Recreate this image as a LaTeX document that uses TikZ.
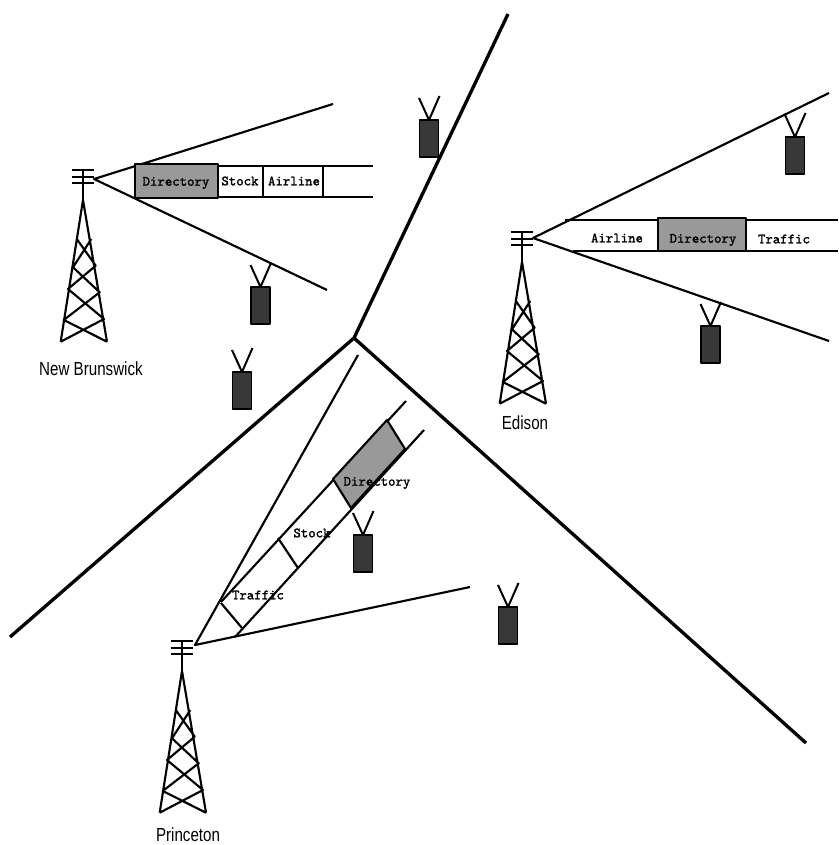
\documentclass[tikz,border=0pt]{standalone}
\usepackage{fontspec}
\newfontfamily\labelsans{Liberation Sans}
\newfontfamily\chanfont[FakeBold=1.6]{Latin Modern Mono}
\begin{document}
\begin{tikzpicture}[x=.75pt,y=-.75pt,line join=round,
  divider/.style={line width=2.5pt,black},
  beam/.style={line width=1.6pt,black},
  band/.style={line width=1.6pt,black},
  cell/.style={fill=black!40,draw=black,line width=1.6pt},
  handset/.style={fill=black!78,draw=black,line width=1.2pt},
  antenna/.style={line width=1.5pt,black},
  chan/.style={font=\chanfont\fontsize{10.6}{12}\selectfont,inner sep=0pt,text=black},
  place/.style={font=\labelsans\fontsize{14.2}{16}\selectfont,xscale=.8,inner sep=0pt,text=black},
  tower/.pic={
    \draw[line width=1.6pt,black] (-11,-7)--(11,-7) (-11,0)--(11,0) (-11,6)--(11,6);
    \draw[line width=1.5pt,black] (0,-7)--(0,23);
    \draw[line width=1.6pt,black] (-22.3,164.7)--(0,23)--(24,164.7)
      (-22.3,164.7)--(21,142)--(-15,112)--(12.7,88.7)--(-5.7,62.7)
      (24,164.7)--(-19.3,143)--(16.7,115.3)--(-10,90.3)--(8.3,62);
  },
  mobile/.pic={
    \draw[antenna] (-10,-22)--(0,0)--(10.5,-24);
    \draw[handset] (-9.5,0) rectangle (9.5,37);
  }]
\useasboundingbox (0,0) rectangle (838,845);
% cell boundaries
\coordinate (hub) at (354,338);
\coordinate (endN) at (508,14);
\coordinate (endW) at (10,637);
\coordinate (endS) at (806,743);
\draw[divider] (endN)--(hub)--(endW) (hub)--(endS);
% towers
\pic at (83,177) {tower};
\pic at (522,239) {tower};
\pic at (182,648) {tower};
% New Brunswick beam
\coordinate (nbO) at (94,179);
\draw[beam] (333,104)--(nbO)--(327,290);
\draw[band] (135,166)--(373,166) (135,197)--(373,197);
\draw[cell] (135,164) rectangle (218,198);
\draw[band] (263,166)--(263,197) (323,166)--(323,197);
\node[chan] (nbDir) at (176,183) {Directory};
\node[chan] (nbSto) at (240,181) {Stock};
\node[chan] (nbAir) at (294,181) {Airline};
% Edison beam
\coordinate (edO) at (533,238);
\draw[beam] (829,93)--(edO)--(829,341);
\draw[band] (565,220)--(838,220) (573,251)--(838,251);
\draw[cell] (658,218) rectangle (746,251);
\node[chan] (edAir) at (617,238) {Airline};
\node[chan] (edDir) at (703,240) {Directory};
\node[chan] (edTra) at (784,239) {Traffic};
% Princeton beam
\coordinate (prO) at (195,645);
\draw[beam] (358,355)--(prO)--(470,587);
\draw[band] (221,602)--(406,401) (235,637)--(424,430);
\draw[band] (221,603)--(242,628) (278,538)--(298,568);
\draw[cell] (333,479)--(387,420)--(405,449)--(351,508)--cycle;
\node[chan] (prTra) at (258,595) {Traffic};
\node[chan] (prSto) at (312,533) {Stock};
\node[chan] (prDir) at (377,483) {Directory};
% mobiles
\pic at (429,120) {mobile};
\pic at (260.5,287) {mobile};
\pic at (242,372) {mobile};
\pic at (795,137) {mobile};
\pic at (710.5,326) {mobile};
\pic at (363,535) {mobile};
\pic at (508,607) {mobile};
% place names
\node[place] (nb) at (91,369) {New Brunswick};
\node[place] (ed) at (525,423) {Edison};
\node[place] (pr) at (188,835) {Princeton};
\end{tikzpicture}
\end{document}
